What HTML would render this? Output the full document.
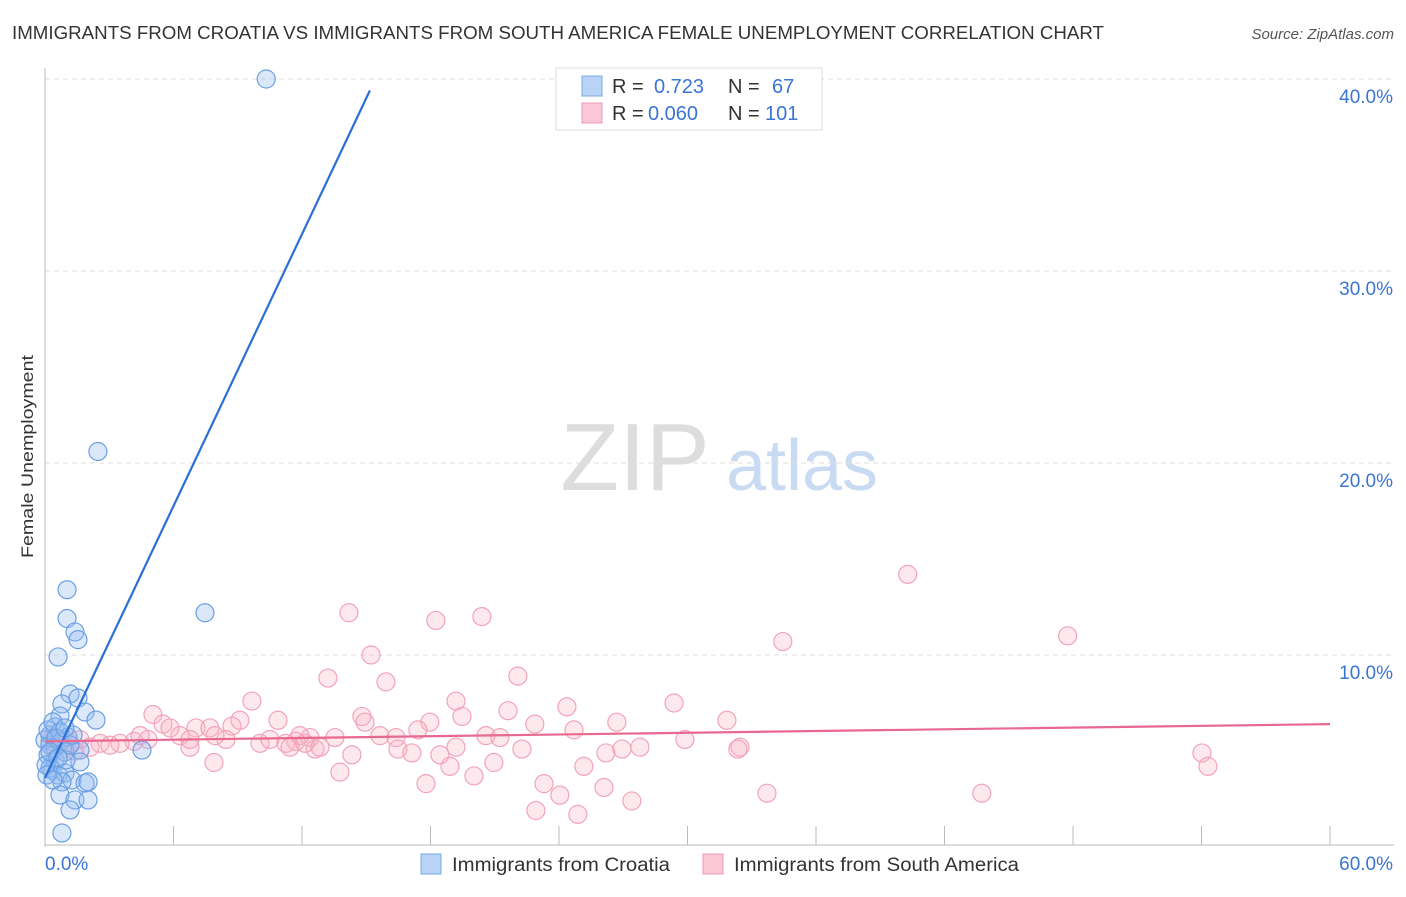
<!DOCTYPE html>
<html><head><meta charset="utf-8"><style>
body{margin:0;background:#fff;font-family:"Liberation Sans",sans-serif;}
svg text{font-family:"Liberation Sans",sans-serif;}
</style></head><body>
<svg id="chart" width="1406" height="892" xmlns="http://www.w3.org/2000/svg">
<text x="12" y="39" font-size="18" fill="#333" textLength="1092" lengthAdjust="spacingAndGlyphs">IMMIGRANTS FROM CROATIA VS IMMIGRANTS FROM SOUTH AMERICA FEMALE UNEMPLOYMENT CORRELATION CHART</text>
<text x="1394" y="39" font-size="15" fill="#555" text-anchor="end" font-style="italic">Source: ZipAtlas.com</text>
<text transform="translate(33,558) rotate(-90)" font-size="17" fill="#333" textLength="203" lengthAdjust="spacingAndGlyphs">Female Unemployment</text>
<g>
<text x="635" y="490" font-size="96" fill="#ddd" text-anchor="middle" font-family="Liberation Serif,serif">ZIP</text>
<text x="802" y="490" font-size="72" fill="#c9dbf2" text-anchor="middle">atlas</text>
</g>
<g id="grid"></g><g id="axes"></g><g id="pinkpts"></g><g id="bluepts"></g><g id="lines"></g>
<g>
<rect x="556" y="68" width="266" height="62" fill="#fff" stroke="#ddd"/>
<rect x="582" y="76" width="20" height="20" fill="#b9d3f5" stroke="#7aa8e6"/>
<text x="612" y="93" font-size="20" fill="#333">R = </text><text x="654" y="93" font-size="20" fill="#3a74d4">0.723</text>
<text x="728" y="93" font-size="20" fill="#333">N = </text><text x="772" y="93" font-size="20" fill="#3a74d4">67</text>
<rect x="582" y="103" width="20" height="20" fill="#fac7d6" stroke="#f09ab5"/>
<text x="612" y="120" font-size="20" fill="#333">R = </text><text x="648" y="120" font-size="20" fill="#3a74d4">0.060</text>
<text x="728" y="120" font-size="20" fill="#333">N = </text><text x="765" y="120" font-size="20" fill="#3a74d4">101</text>
</g>
<g>
<rect x="421" y="854" width="20" height="20" fill="#b9d3f5" stroke="#7aa8e6"/>
<text x="452" y="871" font-size="19" fill="#333" textLength="218" lengthAdjust="spacingAndGlyphs">Immigrants from Croatia</text>
<rect x="703" y="854" width="20" height="20" fill="#fac7d6" stroke="#f09ab5"/>
<text x="734" y="871" font-size="19" fill="#333" textLength="285" lengthAdjust="spacingAndGlyphs">Immigrants from South America</text>
</g>
</svg>
<script>
const yTicks=[10,20,30,40];
const yTickLabels=["10.0%","20.0%","30.0%","40.0%"];
const xTickCount=10;
const xLabels=["0.0%","60.0%"];
const blueX=[10.33,2.47,7.47,1.03,1.03,1.40,1.54,0.61,1.17,1.54,0.79,1.87,2.38,0.70,0.47,0.23,1.07,0,0.23,0.47,0.70,0.14,0.47,0.93,1.63,0.33,0.23,0.61,0.93,1.26,1.87,2.01,0.79,0.70,1.40,2.01,1.17,0.79,4.53,1.63,0.14,0.37,0.70,0.98,0.05,0.51,1.17,1.31,0.93,0.23,0.61,0.09,0.37];
const blueY=[40.0,20.6,12.2,13.4,11.9,11.2,10.8,9.9,7.97,7.76,7.45,7.03,6.61,6.82,6.25,5.83,5.73,5.57,5.31,5.16,5.47,4.79,4.53,4.95,5.05,4.01,4.11,3.75,3.85,3.49,3.33,3.39,3.39,2.71,2.45,2.45,1.93,0.73,5.05,4.43,6.09,6.51,5.99,4.53,4.27,5.68,5.31,5.83,6.20,4.95,4.64,3.75,3.49];
const pinkX=[14.19,18.25,20.40,34.45,40.28,47.75,15.22,13.21,15.92,22.08,9.66,5.04,5.51,19.19,21.62,24.37,29.37,14.80,10.88,14.94,17.97,19.47,26.70,31.84,22.87,24.70,9.10,7.05,7.70,8.73,5.84,6.30,8.45,4.16,4.81,3.50,2.57,2.10,3.03,10.04,11.72,12.37,13.54,15.64,16.39,17.41,20.59,21.24,29.88,32.45,32.35,16.48,17.13,18.44,22.27,12.61,11.25,12.84,14.33,19.19,26.19,26.94,27.78,54.02,54.30,7.89,13.77,20.96,18.91,20.03,25.16,17.79,23.30,26.10,24.04,27.40,33.71,43.74,22.92,24.88,6.77,0.70,1.17,0.47,1.63,0.93,0.23,1.40,7.94,10.50,11.90,6.77,4.44,11.44,12.14];
const pinkY=[12.2,11.8,12.0,10.7,14.2,11.0,10.0,8.8,8.6,8.9,7.6,6.9,6.4,7.6,7.1,7.3,7.5,6.8,6.6,6.5,6.5,6.8,6.5,6.6,6.4,6.1,6.6,6.2,6.2,6.3,6.2,5.8,5.6,5.5,5.6,5.4,5.4,5.2,5.3,5.4,5.5,5.7,5.7,5.8,5.7,6.1,5.8,5.7,5.6,5.2,5.1,5.1,4.9,4.8,5.1,5.1,5.4,5.2,4.8,5.2,4.9,5.1,5.2,4.9,4.2,4.4,3.9,4.4,4.2,3.7,4.2,3.3,3.3,3.1,2.7,2.4,2.8,2.8,1.9,1.7,5.2,5.6,5.4,5.7,5.6,5.1,5.5,5.0,5.8,5.6,5.8,5.6,5.8,5.2,5.4];
const blueLine=[[0,3.6],[15.17,39.4]];
const pinkLine=[[0,5.5],[60,6.4]];

const ns="http://www.w3.org/2000/svg";
const X0=45,X1=1330,Y0=847,PXY=19.2;
function sx(v){return X0+v*(X1-X0)/60;}
function sy(v){return Y0-v*PXY;}
function mk(parent,tag,attrs){const e=document.createElementNS(ns,tag);for(const k in attrs)e.setAttribute(k,attrs[k]);document.getElementById(parent).appendChild(e);return e;}
yTicks.forEach((t,i)=>{
 const g=mk('grid','line',{x1:X0,x2:1394,y1:sy(t),y2:sy(t),stroke:'#ddd','stroke-dasharray':'5,4'});
 
 
 const l=mk('axes','text',{x:1393,y:sy(t)+24,'font-size':19,fill:'#3a74d4','text-anchor':'end'});
 l.textContent=yTickLabels[i];
 
 
});
let a=mk('axes','line',{x1:X0,x2:X0,y1:68,y2:Y0,stroke:'#bbb'});


a=mk('axes','line',{x1:X0,x2:1394,y1:845,y2:845,stroke:'#bbb'});


for(let i=1;i<=xTickCount;i++){
 const t=mk('axes','line',{x1:sx(i*6),x2:sx(i*6),y1:826,y2:845,stroke:'#bbb'});
 
 
}
let xl=mk('axes','text',{x:45,y:870,'font-size':19,fill:'#3a74d4'});xl.textContent=xLabels[0];


xl=mk('axes','text',{x:1393,y:870,'font-size':19,fill:'#3a74d4','text-anchor':'end'});xl.textContent=xLabels[1];


pinkX.forEach((x,i)=>{
 const c=mk('pinkpts','circle',{cx:sx(x),cy:sy(pinkY[i]),r:9,fill:'rgba(250,180,200,0.3)',stroke:'#f2a3bc','stroke-width':1.2});
 
 
});
blueX.forEach((x,i)=>{
 const c=mk('bluepts','circle',{cx:sx(x),cy:sy(blueY[i]),r:9,fill:'rgba(150,190,240,0.35)',stroke:'#6a9fe3','stroke-width':1.2});
 
 
});
let ln=mk('lines','line',{x1:sx(blueLine[0][0]),y1:sy(blueLine[0][1]),x2:sx(blueLine[1][0]),y2:sy(blueLine[1][1]),stroke:'#2a6fd6','stroke-width':2.2});


ln=mk('lines','line',{x1:sx(pinkLine[0][0]),y1:sy(pinkLine[0][1]),x2:sx(pinkLine[1][0]),y2:sy(pinkLine[1][1]),stroke:'#e8688f','stroke-width':2.2});


</script>
</body></html>
